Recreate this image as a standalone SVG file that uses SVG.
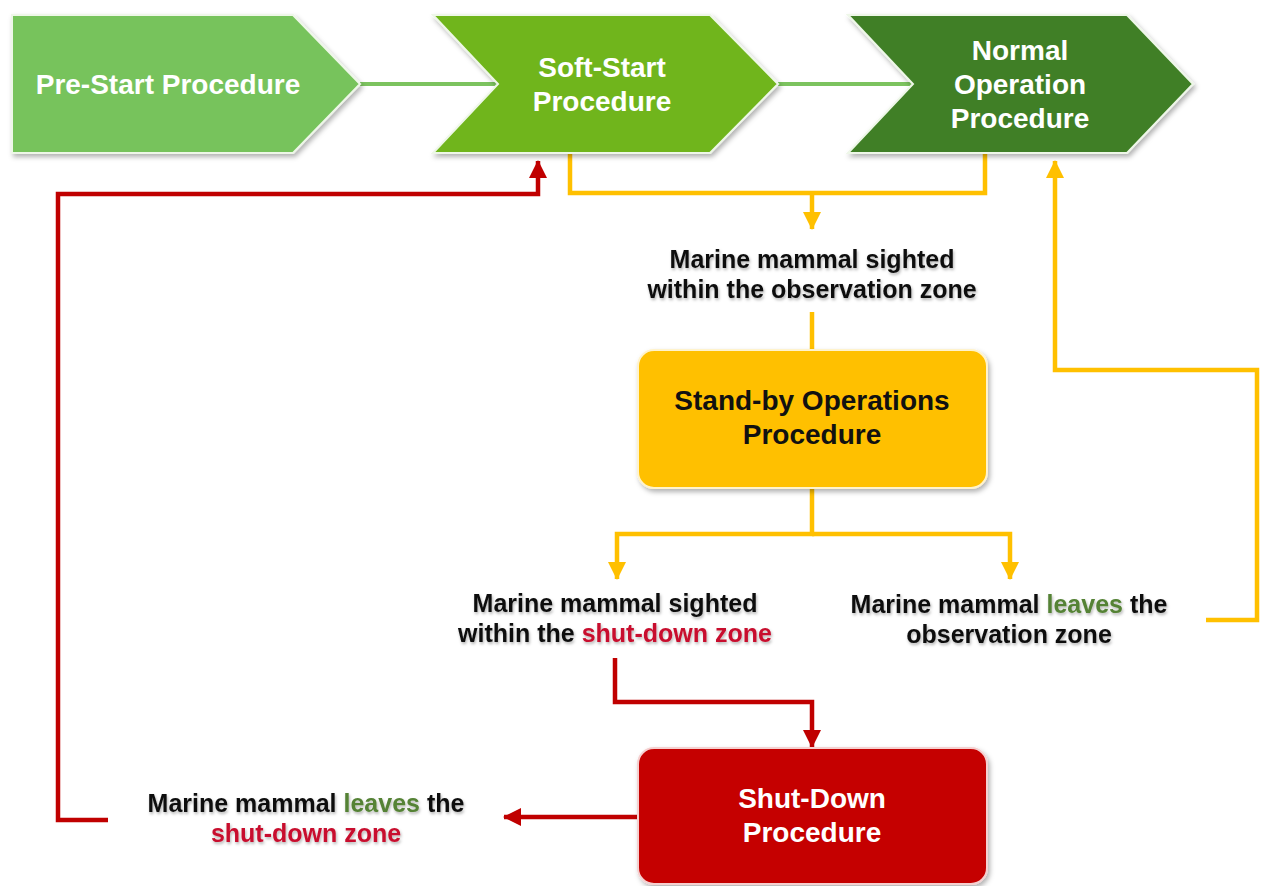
<svg xmlns="http://www.w3.org/2000/svg" width="1261" height="886" viewBox="0 0 1261 886">
<defs>
<filter id="sh" x="-10%" y="-10%" width="130%" height="130%">
<feDropShadow dx="2" dy="3" stdDeviation="2.5" flood-color="#000" flood-opacity="0.3"/>
</filter>
<filter id="tsh" x="-5%" y="-20%" width="110%" height="150%">
<feDropShadow dx="1" dy="2" stdDeviation="1.5" flood-color="#000" flood-opacity="0.3"/>
</filter>
<marker id="ao" markerWidth="18" markerHeight="18" refX="17" refY="9" orient="auto" markerUnits="userSpaceOnUse">
<path d="M0,0 L18,9 L0,18 Z" fill="#ffc000"/>
</marker>
<marker id="ar" markerWidth="18" markerHeight="18" refX="17" refY="9" orient="auto" markerUnits="userSpaceOnUse">
<path d="M0,0 L18,9 L0,18 Z" fill="#c00000"/>
</marker>
</defs>
<style>
.w{font-family:"Liberation Sans",Arial,sans-serif;font-weight:bold;font-size:28px;fill:#fff;text-anchor:middle}
.k{font-family:"Liberation Sans",Arial,sans-serif;font-weight:bold;font-size:28px;fill:#111;text-anchor:middle}
.b{font-family:"Liberation Sans",Arial,sans-serif;font-weight:bold;font-size:25px;fill:#111;text-anchor:middle}
.red{fill:#c8102e}
.grn{fill:#548235}
.lg{fill:none;stroke:#7cc35f;stroke-width:4}
.lo{fill:none;stroke:#ffc000;stroke-width:4.5}
.lr{fill:none;stroke:#c00000;stroke-width:4.5}
.chev{stroke:#eef7e8;stroke-width:2;filter:url(#sh)}
</style>
<rect width="1261" height="886" fill="#fff"/>
<g id="connectors">
<line class="lg" x1="360" y1="84" x2="498" y2="84"/>
<line class="lg" x1="778" y1="84" x2="913" y2="84"/>
<polyline class="lo" points="570,153 570,193 985,193 985,153"/>
<line class="lo" x1="812" y1="193" x2="812" y2="229" marker-end="url(#ao)"/>
<line class="lo" x1="812" y1="312" x2="812" y2="351"/>
<polyline class="lo" points="812,488 812,534 617,534 617,579" marker-end="url(#ao)"/>
<polyline class="lo" points="812,534 1010,534 1010,579" marker-end="url(#ao)"/>
<polyline class="lo" points="1206,620 1257,620 1257,370 1055,370 1055,161" marker-end="url(#ao)"/>
<polyline class="lr" points="615,658 615,702 812,702 812,747" marker-end="url(#ar)"/>
<line class="lr" x1="638" y1="817" x2="504" y2="817" marker-end="url(#ar)"/>
<polyline class="lr" points="108,820 58,820 58,194 538,194 538,161" marker-end="url(#ar)"/>
</g>
<g id="pre-start">
<polygon class="chev" points="12,15 293,15 360,84 293,153 12,153" fill="#77c35c"/>
<text class="w" x="168" y="94">Pre-Start Procedure</text>
</g>
<g id="soft-start">
<polygon class="chev" points="433,15 710,15 778,84 710,153 433,153 498,84" fill="#70b51a"/>
<text class="w" x="602" y="77">Soft-Start</text>
<text class="w" x="602" y="111">Procedure</text>
</g>
<g id="normal-operation">
<polygon class="chev" points="848,15 1127,15 1193,84 1127,153 848,153 913,84" fill="#3f7f26"/>
<text class="w" x="1020" y="60">Normal</text>
<text class="w" x="1020" y="94">Operation</text>
<text class="w" x="1020" y="128">Procedure</text>
</g>
<g id="label-sighted-observation" filter="url(#tsh)">
<text class="b" x="812" y="268">Marine mammal sighted</text>
<text class="b" x="812" y="298">within the observation zone</text>
</g>
<g id="stand-by">
<rect x="638" y="350" width="349" height="138" rx="16" fill="#ffc000" stroke="#fff3cc" stroke-width="2" filter="url(#sh)"/>
<text class="k" x="812" y="410">Stand-by Operations</text>
<text class="k" x="812" y="444">Procedure</text>
</g>
<g id="label-sighted-shutdown" filter="url(#tsh)">
<text class="b" x="615" y="612">Marine mammal sighted</text>
<text class="b" x="615" y="642">within the <tspan class="red">shut-down zone</tspan></text>
</g>
<g id="label-leaves-observation" filter="url(#tsh)">
<text class="b" x="1009" y="613">Marine mammal <tspan class="grn">leaves</tspan> the</text>
<text class="b" x="1009" y="643">observation zone</text>
</g>
<g id="shut-down">
<rect x="638" y="748" width="349" height="136" rx="16" fill="#c50000" stroke="#f5d0d0" stroke-width="2" filter="url(#sh)"/>
<text class="w" x="812" y="808">Shut-Down</text>
<text class="w" x="812" y="842">Procedure</text>
</g>
<g id="label-leaves-shutdown" filter="url(#tsh)">
<text class="b" x="306" y="812">Marine mammal <tspan class="grn">leaves</tspan> the</text>
<text class="b" x="306" y="842"><tspan class="red">shut-down zone</tspan></text>
</g>
</svg>
